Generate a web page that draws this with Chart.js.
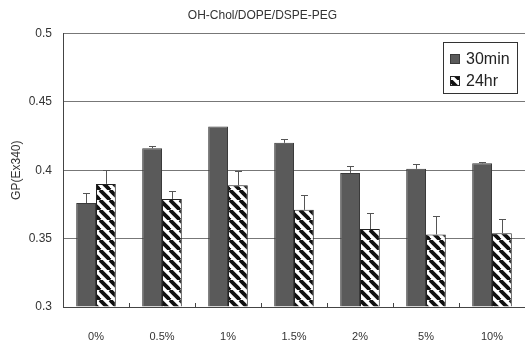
<!DOCTYPE html>
<html>
<head>
<meta charset="utf-8">
<script src="https://cdn.jsdelivr.net/npm/chart.js@4/dist/chart.umd.min.js"></script>
<style>
  html, body { margin: 0; padding: 0; background: #fff; }
  #wrap { width: 525px; height: 340px; }
</style>
</head>
<body>
<div id="wrap"><canvas id="gpChart"></canvas></div>
<script>
// data
const categories = ['0%', '0.5%', '1%', '1.5%', '2%', '5%', '10%'];
const gp30min = [0.376, 0.416, 0.432, 0.420, 0.398, 0.401, 0.405];
const err30min = [0.0073, 0.002, 0, 0.003, 0.005, 0.0034, 0.0007];
const gp24hr = [0.390, 0.379, 0.389, 0.371, 0.357, 0.353, 0.354];
const err24hr = [0.0104, 0.006, 0.0105, 0.0106, 0.012, 0.0136, 0.0105];
const yTicks = [0.3, 0.35, 0.4, 0.45, 0.5];

const FONT = '"Liberation Sans", Arial, sans-serif';

// diagonal stripes for the 24hr bars
function makeStripes() {
    const s = 10;
    const c = document.createElement('canvas');
    c.width = s; c.height = s;
    const g = c.getContext('2d');
    g.fillStyle = '#fff';
    g.fillRect(0, 0, s, s);
    g.strokeStyle = '#111';
    g.lineWidth = 3.8;
    [-s, 0, s].forEach(x0 => {
        g.beginPath();
        g.moveTo(x0, 0);
        g.lineTo(x0 + s, s);
        g.stroke();
    });
    return g.createPattern(c, 'repeat');
}
const stripes = makeStripes();

// error bars (upward only) + inner ticks on x axis
const extrasPlugin = {
    id: 'extras',
    afterDatasetsDraw(chart) {
        const ctx = chart.ctx;
        const y = chart.scales.y;
        const errs = [err30min, err24hr];
        ctx.save();
        ctx.strokeStyle = '#555';
        ctx.lineWidth = 1;
        chart.data.datasets.forEach((ds, di) => {
            chart.getDatasetMeta(di).data.forEach((bar, i) => {
                const e = errs[di][i];
                if (!e) return;
                const yTop = Math.round(y.getPixelForValue(ds.data[i] + e)) + 0.5;
                const x = Math.round(bar.x) + 0.5;
                ctx.beginPath();
                ctx.moveTo(x, bar.y);
                ctx.lineTo(x, yTop);
                ctx.moveTo(x - 3.5, yTop);
                ctx.lineTo(x + 3.5, yTop);
                ctx.stroke();
            });
        });
        // small tick marks between categories, pointing up
        const area = chart.chartArea;
        const step = (area.right - area.left) / categories.length;
        ctx.strokeStyle = '#444';
        for (let i = 1; i < categories.length; i++) {
            const tx = Math.round(area.left + i * step) + 0.5;
            ctx.beginPath();
            ctx.moveTo(tx, area.bottom);
            ctx.lineTo(tx, area.bottom - 4);
            ctx.stroke();
        }
        ctx.restore();
    },
    afterDraw(chart) {
        // legend box
        const ctx = chart.ctx;
        const bx = 443, by = 42, bw = 74, bh = 51;
        ctx.save();
        ctx.fillStyle = '#fff';
        ctx.fillRect(bx, by, bw, bh);
        ctx.strokeStyle = '#333';
        ctx.lineWidth = 1;
        ctx.strokeRect(bx + 0.5, by + 0.5, bw, bh);
        ctx.font = '16px ' + FONT;
        ctx.textBaseline = 'middle';
        const rows = [59, 81];
        chart.data.datasets.forEach((ds, i) => {
            const cy = rows[i];
            ctx.fillStyle = ds.backgroundColor;
            ctx.fillRect(450, cy - 5, 10, 10);
            ctx.strokeStyle = ds.borderColor;
            ctx.strokeRect(450.5, cy - 4.5, 9, 9);
            ctx.fillStyle = '#222';
            ctx.fillText(ds.label, 466, cy + 1);
        });
        ctx.restore();
    }
};

new Chart(document.getElementById('gpChart'), {
    type: 'bar',
    data: {
        labels: categories,
        datasets: [
            {
                label: '30min',
                data: gp30min,
                backgroundColor: '#5a5a5a',
                borderColor: '#3a3a3a',
                borderWidth: 1,
                base: yTicks[0]
            },
            {
                label: '24hr',
                data: gp24hr,
                backgroundColor: stripes,
                borderColor: '#222',
                borderWidth: 1,
                base: yTicks[0]
            }
        ]
    },
    options: {
        responsive: true,
        maintainAspectRatio: false,
        animation: false,
        layout: { padding: { left: 0, right: 0, top: 0, bottom: 0 } },
        datasets: {
            bar: { categoryPercentage: 0.6, barPercentage: 1.0 }
        },
        plugins: {
            legend: { display: false },
            tooltip: { enabled: false },
            title: {
                display: true,
                text: 'OH-Chol/DOPE/DSPE-PEG',
                color: '#333',
                font: { family: FONT, size: 12, weight: 'normal' },
                padding: { top: 8, bottom: 11 }
            }
        },
        scales: {
            x: {
                grid: { display: false },
                border: { color: '#444', width: 1 },
                ticks: {
                    color: '#333',
                    font: { family: FONT, size: 11 },
                    padding: 15,
                    maxRotation: 0
                },
                afterFit(scale) { scale.height = 33; }
            },
            y: {
                min: yTicks[0],
                max: yTicks[yTicks.length - 1],
                afterBuildTicks(scale) {
                    scale.ticks = yTicks.map(v => ({ value: v }));
                },
                grid: { color: '#777', drawTicks: false },
                border: { color: '#444', width: 1 },
                ticks: {
                    color: '#333',
                    font: { family: FONT, size: 12 },
                    padding: 11,
                    callback: v => String(+v.toFixed(2))
                },
                title: {
                    display: true,
                    text: 'GP(Ex340)',
                    color: '#333',
                    font: { family: FONT, size: 12 },
                    padding: { top: 9, bottom: 0 }
                },
                afterFit(scale) { scale.width = 63; }
            }
        }
    },
    plugins: [extrasPlugin]
});
</script>
</body>
</html>
